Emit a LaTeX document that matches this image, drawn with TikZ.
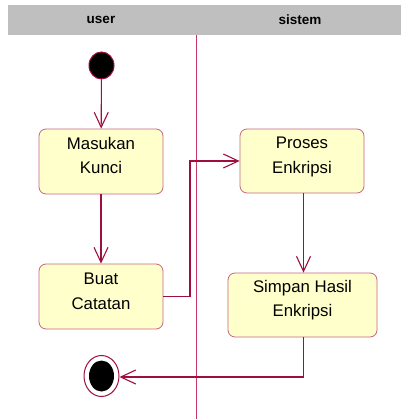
\documentclass[tikz,border=0pt]{standalone}
\usepackage{fontspec}
\setmainfont{Liberation Sans}
\usetikzlibrary{arrows.meta,shapes.geometric}
\definecolor{hdr}{HTML}{BFBFBF}
\definecolor{lane}{HTML}{C8386E}
\definecolor{flow}{HTML}{9E0E3F}
\definecolor{boxfill}{HTML}{FFFFCC}
\definecolor{boxline}{HTML}{C86482}
\tikzset{
  act/.style={draw=boxline, fill=boxfill, line width=0.8pt, rounded corners=7pt, inner sep=0pt},
  txt/.style={anchor=base, font=\fontsize{16.8}{20}\selectfont, inner sep=0pt},
  flowline/.style={draw=flow, line width=1.1pt},
  arr/.style={flowline, -{Straight Barb[length=15pt,width=14pt,line width=1.1pt]}},
  lanehead/.style={font=\bfseries\fontsize{13.5}{15}\selectfont, inner sep=0pt}
}
\begin{document}
\begin{tikzpicture}[x=1pt,y=-1pt]
\useasboundingbox (0,0) rectangle (401,419);
\fill[hdr] (8,5) rectangle (401,35);
\node[lanehead] (uh) at (101,20) {user};
\node[lanehead] (sh) at (300,20) {sistem};
\coordinate (dtop) at (196,35);
\coordinate (dbot) at (196,419);
\draw[lane, line width=1pt] (dtop) -- (dbot);

\node[ellipse, draw=flow, fill=black, line width=1pt, minimum width=25pt, minimum height=27pt, inner sep=0pt] (start) at (101.5,65.5) {};

\node[act, minimum width=124pt, minimum height=65pt] (mk) at (101,161.5) {};
\node[txt] (mk1) at (101,149.5) {Masukan};
\node[txt] (mk2) at (101,174) {Kunci};
\node[act, minimum width=124pt, minimum height=65pt] (bc) at (101,296.5) {};
\node[txt] (bc1) at (101,284.5) {Buat};
\node[txt] (bc2) at (101,309) {Catatan};
\node[act, minimum width=124pt, minimum height=64pt] (pe) at (302,161) {};
\node[txt] (pe1) at (302,149) {Proses};
\node[txt] (pe2) at (302,173.5) {Enkripsi};
\node[act, minimum width=149pt, minimum height=64pt] (sh2) at (302.5,305) {};
\node[txt] (sh21) at (302.5,292.5) {Simpan Hasil};
\node[txt] (sh22) at (302.5,316.5) {Enkripsi};

\node[ellipse, draw=flow, fill=white, line width=1pt, minimum width=35pt, minimum height=41pt, inner sep=0pt] (endo) at (101.5,376) {};
\node[ellipse, fill=black, minimum width=25pt, minimum height=31pt, inner sep=0pt] (endi) at (101.5,376) {};

\draw[arr] (start) -- (mk);
\draw[arr] (mk) -- (bc);
\coordinate (j1) at (190,296.5);
\coordinate (j2) at (190,161);
\draw[arr] (bc.east) -- (j1) -- (j2) -- (pe.west);
\draw[arr] (pe.south -| 303.5,0) -- (sh2.north -| 303.5,0);
\coordinate (j3) at (303.5,377);
\draw[arr] (sh2.south -| 303.5,0) -- (j3) -- (endo.east |- 0,377);
\end{tikzpicture}
\end{document}
